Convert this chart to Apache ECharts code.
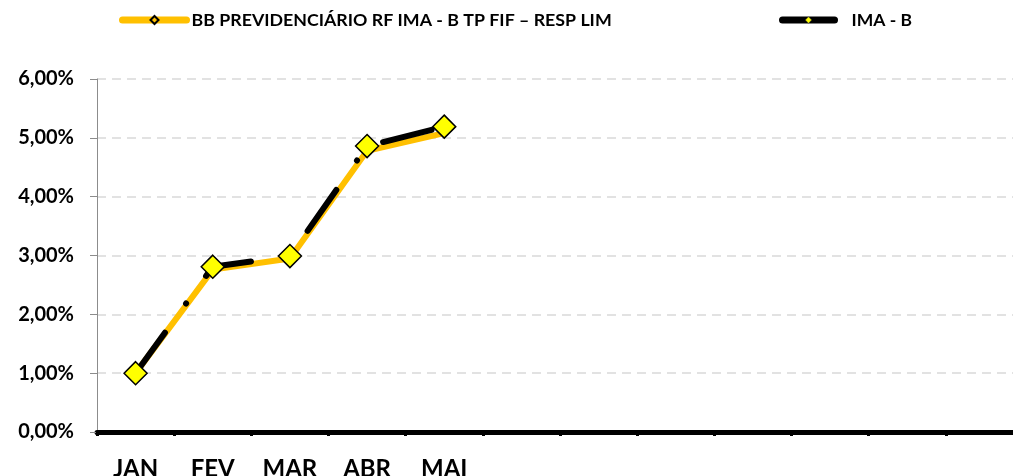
<!DOCTYPE html>
<html>
<head>
<meta charset="utf-8">
<script src="https://cdn.jsdelivr.net/npm/echarts@6/dist/echarts.min.js"></script>
<style>
html,body{margin:0;padding:0;background:#fff;}
#chart{width:1013px;height:476px;}
</style>
</head>
<body>
<div id="chart"></div>
<script>
const categories = ["JAN","FEV","MAR","ABR","MAI","","","","","","",""];
const seriesBBName = "BB PREVIDENCIÁRIO RF IMA - B TP FIF – RESP LIM";
const seriesBB = [1.00, 2.76, 2.95, 4.78, 5.08];
const seriesIMAName = "IMA - B";
const seriesIMA = [1.00, 2.81, 2.99, 4.86, 5.19];
const yTicks = [0, 1, 2, 3, 4, 5, 6];

const FONT = "Lato";
const chart = echarts.init(document.getElementById('chart'), null, {renderer:'canvas'});
const fmt = v => v.toFixed(2).replace('.', ',') + '%';

chart.setOption({
  animation: false,
  backgroundColor: '#ffffff',
  legend: [{
    left: 119, top: 11, padding: 0,
    itemWidth: 64, itemHeight: 10,
    data: [{name: seriesBBName,
      lineStyle: {type: 'solid', width: 7, cap: 'round', color: '#FFC000'},
      itemStyle: {color: '#FFC000', borderColor: '#000', borderWidth: 2}}],
    textStyle: {fontFamily: FONT, fontWeight: 'bold', fontSize: 17.8, color: '#000'},
    selectedMode: false
  },{
    left: 779, top: 11, padding: 0,
    itemWidth: 52, itemHeight: 8,
    data: [{name: seriesIMAName,
      lineStyle: {type: 'solid', width: 7, cap: 'round', color: '#000'},
      itemStyle: {color: '#FFFF00', borderColor: '#333', borderWidth: 0.5}}],
    textStyle: {fontFamily: FONT, fontWeight: 'bold', fontSize: 17.5, color: '#000', padding:[0,0,0,12]},
    selectedMode: false
  }],
  grid: {left: 97, top: 79, bottom: 44, width: 926, containLabel: false, outerBoundsMode: 'none'},
  xAxis: {
    type: 'category',
    data: categories,
    boundaryGap: true,
    axisLine: {lineStyle: {color: '#000', width: 5}},
    axisTick: {show: true, alignWithLabel: false, length: 4, lineStyle: {color: '#000', width: 3}},
    axisLabel: {fontFamily: FONT, fontWeight: 'bold', fontSize: 24, color: '#000', margin: 25},
    splitLine: {show: false}
  },
  yAxis: {
    type: 'value',
    min: yTicks[0], max: yTicks[yTicks.length-1], interval: 1,
    axisLine: {show: true, lineStyle: {color: '#8c8c8c', width: 1}},
    axisTick: {show: true, length: 7, lineStyle: {color: '#8c8c8c', width: 1}},
    axisLabel: {fontFamily: FONT, fontWeight: 'bold', fontSize: 20, color: '#000', margin: 23, formatter: fmt},
    splitLine: {show: true, lineStyle: {color: '#d9d9d9', width: 1.5, type: [9, 6]}}
  },
  series: [{
    name: seriesBBName,
    type: 'line',
    data: seriesBB,
    symbol: 'diamond',
    showSymbol: false,
    lineStyle: {color: '#FFC000', width: 6, cap: 'round', join: 'round'},
    itemStyle: {color: '#FFC000'},
    z: 2
  },{
    name: seriesIMAName,
    type: 'line',
    data: seriesIMA,
    symbol: 'diamond',
    symbolSize: 23,
    lineStyle: {color: '#000', width: 6, type: [50, 36, 0.1, 34], cap: 'round', join: 'round'},
    itemStyle: {color: '#FFFF00', borderColor: '#000', borderWidth: 1.5},
    z: 3
  }]
});
</script>
</body>
</html>
